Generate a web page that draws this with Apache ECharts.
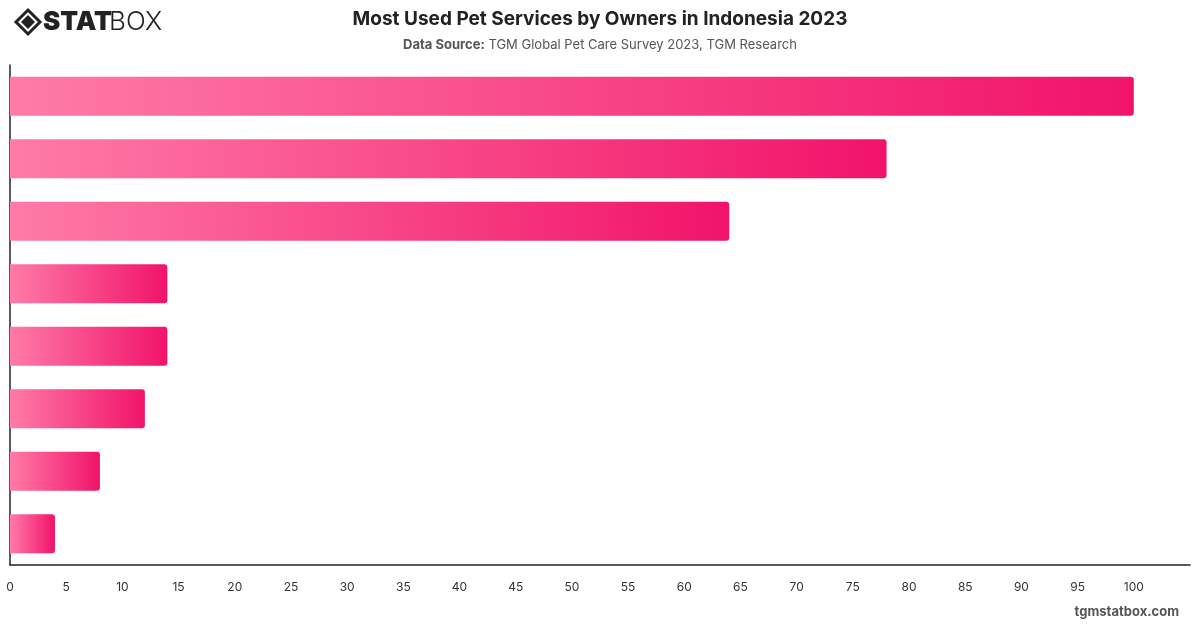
<!DOCTYPE html>
<html>
<head>
<meta charset="utf-8">
<script src="https://cdn.jsdelivr.net/npm/echarts@6/dist/echarts.min.js"></script>
<style>
html,body{margin:0;padding:0;background:#fff;}
#chart{width:1200px;height:628px;}
</style>
</head>
<body>
<div id="chart"></div>
<script>
const categories = ["Service A","Service B","Service C","Service D","Service E","Service F","Service G","Service H"];
const values = [100, 78, 64, 14, 14, 12, 8, 4];
const xTicks = [0,5,10,15,20,25,30,35,40,45,50,55,60,65,70,75,80,85,90,95,100];

const chart = echarts.init(document.getElementById('chart'));
const font = 'Inter, "Noto Sans", sans-serif';
const barGrad = new echarts.graphic.LinearGradient(0,0,1,0,[
  {offset:0,color:'#ff7ba7'},
  {offset:1,color:'#f1136a'}
]);
chart.setOption({
  backgroundColor:'#ffffff',
  animation:false,
  title:{
    text:'Most Used Pet Services by Owners in Indonesia 2023',
    left:'center', top:5,
    textStyle:{fontFamily:font,fontSize:19,fontWeight:'bold',color:'#222'},
    subtext:'{b|Data Source:} TGM Global Pet Care Survey 2023, TGM Research',
    itemGap:10,
    subtextStyle:{fontFamily:font,fontSize:13,color:'#555',
      rich:{b:{fontFamily:font,fontSize:13,fontWeight:'bold',color:'#555'}}}
  },
  graphic:[
    {type:'polygon',shape:{points:[[28,10],[40,22],[28,34],[16,22]]},style:{fill:'none',stroke:'#222',lineWidth:3}},
    {type:'polygon',shape:{points:[[28,15],[35,22],[28,29],[21,22]]},style:{fill:'#222'}},
    {type:'text',left:43,top:9,style:{text:'STAT',font:'900 26px '+font,fill:'#222'}},
    {type:'text',left:109,top:9,style:{text:'BOX',font:'300 26px '+font,fill:'#222'}},
    {type:'text',right:21,top:606,style:{text:'tgmstatbox.com',font:'bold 13px '+font,fill:'#555'}}
  ],
  grid:{left:10,right:10,top:65,bottom:63,containLabel:false},
  xAxis:{
    type:'value',min:0,max:105,interval:5,
    axisLine:{show:true,lineStyle:{color:'#222',width:1.5}},
    axisTick:{show:false},
    splitLine:{show:false},
    axisLabel:{color:'#333',fontFamily:font,fontSize:12,margin:16,
      formatter:function(v){return xTicks.indexOf(v)>=0?String(v):'';}}
  },
  yAxis:{
    type:'category',data:categories,inverse:true,
    axisLine:{show:true,lineStyle:{color:'#222',width:1.5}},
    axisTick:{show:false},
    axisLabel:{show:false}
  },
  series:[{
    type:'bar',data:values,barWidth:39,
    itemStyle:{color:barGrad,borderRadius:[0,3,3,0]}
  }]
});
</script>
</body>
</html>
